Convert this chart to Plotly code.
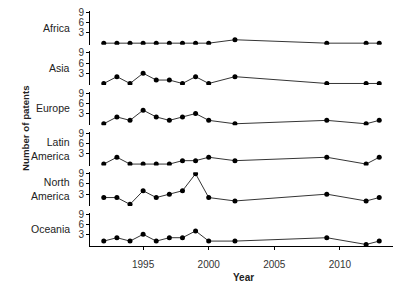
import plotly.graph_objects as go

years = [1992, 1993, 1994, 1995, 1996, 1997, 1998, 1999, 2000, 2002, 2009, 2012, 2013]
regions = ["Africa", "Asia", "Europe", "Latin<br>America", "North<br>America", "Oceania"]
africa = [0, 0, 0, 0, 0, 0, 0, 0, 0, 1, 0, 0, 0]
asia = [0, 2, 0, 3, 1, 1, 0, 2, 0, 2, 0, 0, 0]
europe = [0, 2, 1, 4, 2, 1, 2, 3, 1, 0, 1, 0, 1]
latin_america = [0, 2, 0, 0, 0, 0, 1, 1, 2, 1, 2, 0, 2]
north_america = [2, 2, 0, 4, 2, 3, 4, 9, 2, 1, 3, 1, 2]
oceania = [1, 2, 1, 3, 1, 2, 2, 4, 1, 1, 2, 0, 1]
series = [africa, asia, europe, latin_america, north_america, oceania]
y_ticks = [3, 6, 9]
x_ticks = [1995, 2000, 2005, 2010]

W, H = 401, 286
ML, MR, MT, MB = 90, 8, 11, 40
plot_w = W - ML - MR
plot_h = H - MT - MB
panel_h = 33.7
pitch = 40.3

FONT = "Liberation Sans, Arial, sans-serif"
TXT = "#222"
fig = go.Figure()
layout = dict(
    width=W, height=H,
    margin=dict(l=ML, r=MR, t=MT, b=MB),
    paper_bgcolor="white", plot_bgcolor="white",
    showlegend=False,
    font=dict(family=FONT, size=10, color=TXT),
)
annotations = []
for i, (name, vals) in enumerate(zip(regions, series)):
    idx = "" if i == 0 else str(i + 1)
    top_px = MT + i * pitch
    bot_px = top_px + panel_h
    d0 = max(0.0, (H - MB - bot_px) / plot_h)
    d1 = min(1.0, (H - MB - top_px) / plot_h)
    fig.add_trace(go.Scatter(
        x=years, y=vals, mode="lines+markers",
        line=dict(color="black", width=0.8),
        marker=dict(color="black", size=5),
        xaxis="x" + idx, yaxis="y" + idx,
    ))
    last = (i == len(regions) - 1)
    xa = dict(
        range=[1990.95, 2014.05], anchor="y" + idx, domain=[0, 1],
        automargin=False,
        showgrid=False, zeroline=False,
        showline=last, linecolor="black", linewidth=1,
        ticks="outside" if last else "", ticklen=3, tickcolor="black",
        tickvals=x_ticks if last else [], showticklabels=last,
        tickfont=dict(size=10, color="#333", family=FONT),
    )
    if last:
        xa["ticklabelstandoff"] = 6
    if i > 0:
        xa["matches"] = "x"
    layout["xaxis" + idx] = xa
    layout["yaxis" + idx] = dict(
        range=[-0.45, 9.45], domain=[d0, d1], anchor="x" + idx,
        automargin=False,
        showgrid=False, zeroline=False,
        showline=True, linecolor="black", linewidth=1,
        ticks="outside", ticklen=3, tickcolor="black",
        tickvals=y_ticks, tickfont=dict(size=10, color="#333", family=FONT),
    )
    annotations.append(dict(
        text=name, xref="paper", yref="paper",
        x=-18 / plot_w, y=(d0 + d1) / 2,
        xanchor="right", yanchor="middle", align="right", showarrow=False,
        font=dict(size=10.5, color=TXT, family=FONT),
    ))
annotations.append(dict(
    text="<b>Number of patents</b>", xref="paper", yref="paper",
    x=-65 / plot_w, y=(H - MB - 128) / plot_h, textangle=-90,
    xanchor="center", yanchor="middle", showarrow=False,
    font=dict(size=9.7, color=TXT, family=FONT),
))
annotations.append(dict(
    text="<b>Year</b>", xref="paper", yref="paper",
    x=(243 - ML) / plot_w, y=(H - MB - 277) / plot_h,
    xanchor="center", yanchor="middle", showarrow=False,
    font=dict(size=10, color=TXT, family=FONT),
))
layout["annotations"] = annotations
fig.update_layout(**layout)
fig.write_html(
    "out.html",
    config={"displayModeBar": False, "staticPlot": True},
    post_script="document.body.style.margin='0';document.body.style.overflow='hidden';",
)
